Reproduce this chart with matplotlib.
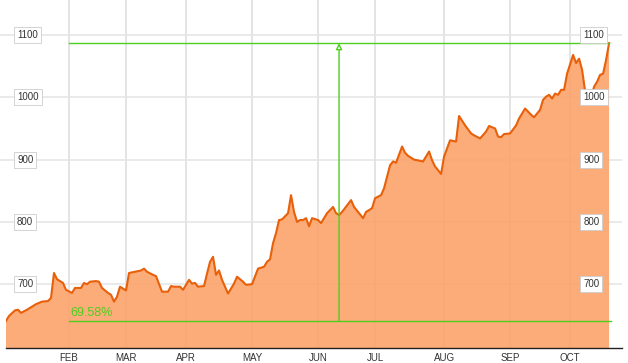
import matplotlib.pyplot as plt

# trading-day index and closing level
day = [0, 1, 3, 4, 5, 7, 9, 10, 12, 14, 15, 16, 17, 19, 20, 22, 23, 25, 26, 27,
       28, 30, 31, 32, 34, 35, 36, 37, 38, 40, 41, 43, 45, 46, 47, 49, 50, 52, 54, 55,
       56, 58, 59, 61, 62, 63, 64, 66, 67, 68, 69, 70, 71, 72, 74, 75, 76, 77, 79, 80,
       82, 84, 86, 87, 88, 89, 90, 91, 92, 94, 95, 96, 97, 98, 99, 100, 101, 102, 104, 105,
       107, 109, 110, 111, 112, 115, 116, 119, 120, 122, 123, 125, 126, 128, 129, 130, 132, 133, 134, 136,
       137, 139, 141, 142, 143, 145, 146, 148, 150, 151, 153, 155, 156, 158, 160, 161, 163, 164, 165, 166,
       168, 170, 171, 173, 175, 176, 178, 179, 180, 181, 182, 183, 184, 185, 186, 187, 189, 190, 191, 192,
       193, 194, 195, 196, 197, 198, 199, 200, 201]
price = [641, 649, 658, 659, 654, 659, 665, 668, 672, 673, 678, 718, 708, 702, 691, 686, 694, 694, 702, 700,
         704, 705, 704, 694, 686, 683, 672, 680, 696, 690, 718, 720, 722, 725, 720, 715, 713, 688, 688, 697,
         696, 696, 691, 707, 701, 702, 696, 697, 717, 736, 744, 715, 722, 707, 685, 693, 701, 712, 704, 699,
         700, 725, 728, 736, 740, 766, 782, 803, 804, 814, 843, 816, 800, 803, 803, 806, 793, 806, 803, 798,
         814, 824, 814, 811, 816, 835, 824, 806, 816, 822, 838, 843, 854, 891, 897, 895, 921, 911, 906, 900,
         899, 897, 913, 899, 889, 877, 905, 931, 929, 970, 955, 942, 939, 934, 945, 954, 950, 937, 936, 941,
         942, 955, 966, 982, 972, 968, 980, 996, 1001, 1004, 998, 1006, 1004, 1012, 1012, 1038, 1068, 1055, 1062, 1044,
         1010, 992, 1000, 1017, 1025, 1036, 1038, 1060, 1087]

month_days = [21, 40, 60, 82, 104, 123, 146, 168, 188]
month_labels = ['FEB', 'MAR', 'APR', 'MAY', 'JUN', 'JUL', 'AUG', 'SEP', 'OCT']
y_levels = [700, 800, 900, 1000, 1100]

grid_c = '#e4e4e4'
green = '#4ccf1f'
txt_c = '#333333'

fig = plt.figure(figsize=(6.28, 3.63), dpi=100)
ax = fig.add_axes([6 / 628, 15 / 363, 616 / 628, 348 / 363])
ax.set_xlim(0, 205.3)
ax.set_ylim(597.6, 1156.2)

for d in month_days:
    ax.axvline(d, color=grid_c, lw=1.4, zorder=0)
for v in y_levels:
    ax.axhline(v, color=grid_c, lw=1.1, zorder=0)
    ax.plot([-3, 0], [v, v], color=grid_c, lw=1.1, transform=ax.get_yaxis_transform(), clip_on=False)

ax.fill_between(day, price, 0, color='#fca36b', alpha=0.9, lw=0, zorder=1)
ax.plot(day, price, color='#e8600a', lw=1.5, zorder=2, solid_joinstyle='round')

# measurement from FEB to last close
start, end = month_days[0], day[-1]
low, high = price[0], price[-1]
ax.plot([start, end], [high, high], color=green, lw=1, zorder=3)
ax.plot([start, end + 0.5], [low, low], color=green, lw=1, zorder=3)
mid = (start + end) / 2
ax.annotate('', xy=(mid, high), xytext=(mid, low),
            arrowprops=dict(arrowstyle='-|>', color=green, fc='white', lw=1,
                            mutation_scale=9, shrinkA=0, shrinkB=0), zorder=3)
ax.annotate(f'{(high / low - 1) * 100:.2f}%', xy=(start, low), xytext=(1, 3.8),
            textcoords='offset points', va='baseline', ha='left', color=green,
            fontsize=9, family='Liberation Sans', zorder=4)

for v in y_levels:
    for xpos in (0.018, 0.937):
        ax.text(xpos, v, str(v), transform=ax.get_yaxis_transform(), fontsize=7,
                family='Liberation Sans', color=txt_c, va='center', ha='left', zorder=5,
                bbox=dict(boxstyle='square,pad=0.3', fc='white', ec='#cccccc', lw=0.6))

for d, lab in zip(month_days, month_labels):
    ax.text(d, -0.015, lab, transform=ax.get_xaxis_transform(), ha='center', va='top',
            fontsize=7, family='Liberation Sans', color=txt_c)

for s in ('top', 'right', 'left'):
    ax.spines[s].set_visible(False)
ax.spines['bottom'].set_color('#222222')
ax.spines['bottom'].set_linewidth(1)
ax.set_xticks([])
ax.set_yticks([])

fig.savefig('out.png', dpi=100)
